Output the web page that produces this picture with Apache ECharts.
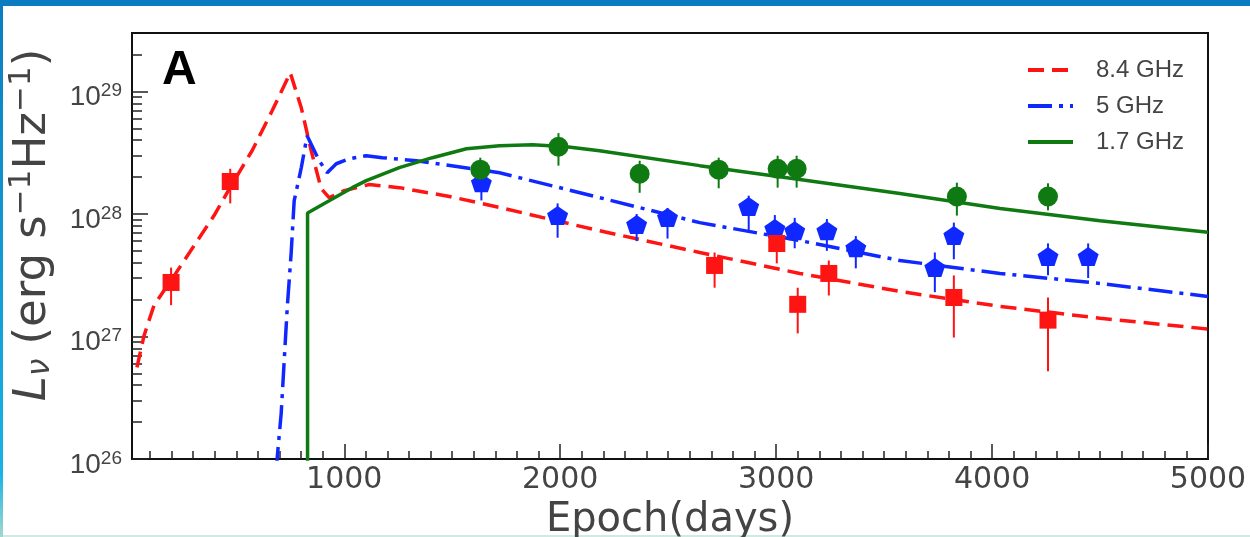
<!DOCTYPE html>
<html>
<head>
<meta charset="utf-8">
<title>Radio light curves</title>
<script src="https://cdn.jsdelivr.net/npm/echarts@6/dist/echarts.min.js"></script>
<style>
  html, body { margin: 0; padding: 0; }
  body {
    width: 1250px; height: 537px; overflow: hidden;
    background:
      linear-gradient(#0b7cc0, #0b7cc0) top left / 100% 6px no-repeat,
      linear-gradient(to bottom, #0b7cc0, #18b2e6 88%, #9fd8d0) top left / 3px 100% no-repeat,
      linear-gradient(#cfeae2, #cfeae2) bottom left / 100% 2px no-repeat,
      #ffffff;
  }
  #chart { width: 1250px; height: 537px; }
</style>
</head>
<body>
<div id="chart"></div>
<script>
// Epochs in days, luminosities in erg s^-1 Hz^-1

// Model light curves: [epoch, L_nu]
const model84 = [
  [40, 5.6e26], [73, 1.02e27], [119, 1.8e27], [198, 2.87e27], [305, 5.53e27],
  [397, 9.7e27], [476, 1.70e28], [573, 3.28e28], [666, 6.95e28], [750, 1.42e29],
  [801, 7.35e28], [847, 3.28e28], [893, 1.61e28], [930, 1.36e28], [1000, 1.55e28],
  [1116, 1.74e28], [1255, 1.64e28], [1487, 1.39e28], [1719, 1.13e28], [2182, 7.3e27],
  [2646, 4.85e27], [3109, 3.27e27], [3573, 2.33e27], [4037, 1.76e27], [4500, 1.41e27],
  [5000, 1.15e27]
];
const model5 = [
  [684, 8e25], [708, 2.37e26], [722, 6.4e26], [736, 1.73e27], [754, 4.76e27],
  [768, 1.28e28], [801, 2.39e28], [828, 4.35e28], [884, 2.72e28], [921, 2.17e28],
  [963, 2.57e28], [1023, 2.82e28], [1102, 2.99e28], [1176, 2.88e28], [1334, 2.72e28],
  [1719, 2.17e28], [2182, 1.36e28], [2646, 8.5e27], [3109, 6.07e27], [3573, 4.17e27],
  [4037, 3.27e27], [4500, 2.71e27], [5000, 2.12e27]
];
const model17 = [
  [830, 9e25], [830, 1.02e28], [930, 1.28e28], [1037, 1.64e28], [1102, 1.87e28],
  [1255, 2.39e28], [1408, 2.88e28], [1566, 3.41e28], [1719, 3.61e28], [1872, 3.67e28],
  [2029, 3.54e28], [2182, 3.28e28], [2646, 2.48e28], [3109, 1.91e28], [3573, 1.47e28],
  [4037, 1.11e28], [4500, 8.8e27], [5000, 7.1e27]
];

// Observed points: epoch, value, lower and upper error limits
const days84 = [198, 472, 2715, 3003, 3100, 3244, 3823, 4259];
const lum84  = [2.76e27, 1.84e28, 3.8e27, 5.74e27, 1.83e27, 3.27e27, 2.08e27, 1.36e27];
const low84  = [1.8e27, 1.22e28, 2.5e27, 3.95e27, 1.06e27, 2.16e27, 9.8e26, 5.2e26];
const high84 = [3.65e27, 2.34e28, 4.85e27, 6.9e27, 2.5e27, 4.17e27, 3.15e27, 2.08e27];

const days5 = [1635, 1988, 2354, 2497, 2873, 2994, 3086, 3235, 3369, 3735, 3823, 4259, 4445];
const lum5  = [1.8e28, 9.7e27, 8.2e27, 9.35e27, 1.15e28, 7.6e27, 7.3e27, 7.3e27, 5.3e27, 3.66e27, 6.67e27, 4.5e27, 4.5e27];
const low5  = [1.29e28, 6.4e27, 6.0e27, 6.3e27, 7.1e27, 5.75e27, 5.25e27, 5.0e27, 3.6e27, 2.3e27, 4.27e27, 3.16e27, 3.0e27];
const high5 = [2.4e28, 1.22e28, 1.0e28, 1.12e28, 1.41e28, 9.8e27, 9.3e27, 9.1e27, 6.6e27, 4.85e27, 8.5e27, 5.75e27, 5.75e27];

const days17 = [1630, 1992, 2368, 2734, 3007, 3095, 3837, 4259];
const lum17  = [2.3e28, 3.54e28, 2.13e28, 2.3e28, 2.34e28, 2.34e28, 1.39e28, 1.39e28];
const low17  = [1.86e28, 2.48e28, 1.49e28, 1.62e28, 1.64e28, 1.64e28, 9.7e27, 1.07e28];
const high17 = [2.88e28, 4.57e28, 2.72e28, 2.88e28, 2.99e28, 2.99e28, 1.8e28, 1.78e28];

// Axis ticks
const xMajorTicks = [1000, 2000, 3000, 4000, 5000];
const xMinorTicks = [100, 200, 300, 400, 500, 600, 700, 800, 900, 1100, 1200, 1300, 1400, 1500,
  1600, 1700, 1800, 1900, 2100, 2200, 2300, 2400, 2500, 2600, 2700, 2800, 2900, 3100, 3200,
  3300, 3400, 3500, 3600, 3700, 3800, 3900, 4100, 4200, 4300, 4400, 4500, 4600, 4700, 4800, 4900];
const yMajorTicks = [1e26, 1e27, 1e28, 1e29];
const yMinorTicks = [2e26, 3e26, 4e26, 5e26, 6e26, 7e26, 8e26, 9e26,
  2e27, 3e27, 4e27, 5e27, 6e27, 7e27, 8e27, 9e27,
  2e28, 3e28, 4e28, 5e28, 6e28, 7e28, 8e28, 9e28, 2e29];

const seriesNames = ['8.4 GHz', '5 GHz', '1.7 GHz'];
const RED = '#ff1414', BLUE = '#0f28ff', GREEN = '#0f7a12';
const PENTAGON = 'path://M50,0 L97.55,34.55 L79.39,90.45 L20.61,90.45 L2.45,34.55 Z';

const zip3 = (d, v, lo, hi) => d.map((x, i) => [x, v[i], lo[i], hi[i]]);

function errorBars(name, rows, color) {
  return {
    type: 'custom', name: name + ' err', data: rows, z: 3, clip: true,
    encode: { x: 0, y: [2, 3] },
    renderItem: function (params, api) {
      const a = api.coord([api.value(0), api.value(2)]);
      const b = api.coord([api.value(0), api.value(3)]);
      return { type: 'line', shape: { x1: a[0], y1: a[1], x2: b[0], y2: b[1] },
               style: { stroke: color, lineWidth: 2 } };
    }
  };
}
function markers(name, rows, color, symbol, size) {
  return {
    type: 'scatter', name: name + ' obs', data: rows.map(r => [r[0], r[1]]), z: 4,
    symbol: symbol, symbolSize: size, itemStyle: { color: color, opacity: 1 }
  };
}
function model(name, data, color, dash) {
  return {
    type: 'line', name: name, data: data, z: 2, clip: true, symbol: 'none',
    lineStyle: { color: color, width: 3.5, type: dash }, itemStyle: { color: color }
  };
}

const rows84 = zip3(days84, lum84, low84, high84);
const rows5 = zip3(days5, lum5, low5, high5);
const rows17 = zip3(days17, lum17, low17, high17);

const chart = echarts.init(document.getElementById('chart'), null, { renderer: 'canvas' });
chart.setOption({
  animation: false,
  backgroundColor: 'transparent',
  grid: {
    left: 132, right: 42, top: 33, bottom: 78, show: true, borderColor: '#111', borderWidth: 2,
    containLabel: false, outerBoundsMode: 'none'
  },
  legend: {
    data: seriesNames, orient: 'vertical', left: 1021, top: 53,
    itemWidth: 45, itemHeight: 14, itemGap: 12,
    itemStyle: { color: 'transparent', borderWidth: 0, opacity: 0 },
    lineStyle: { width: 4 },
    textStyle: { fontFamily: 'Liberation Sans', fontSize: 24, color: '#444', padding: [0, 0, 0, 18] }
  },
  graphic: [{
    type: 'text', left: 162, top: 47,
    style: { text: 'A', font: 'bold 48px "Liberation Sans Narrow", "Liberation Sans", Arial', fill: '#000' }
  }],
  xAxis: [{
    type: 'value', min: 17, max: 5000,
    name: 'Epoch(days)', nameLocation: 'middle', nameGap: 42,
    nameTextStyle: { fontFamily: 'DejaVu Sans', fontSize: 40, color: '#444' },
    axisLine: { show: false }, splitLine: { show: false },
    axisTick: { inside: true, length: 15, customValues: xMajorTicks, lineStyle: { color: '#222', width: 1.5 } },
    axisLabel: {
      customValues: xMajorTicks, margin: 6, formatter: v => String(v),
      fontFamily: 'DejaVu Sans', fontSize: 30, color: '#444'
    }
  }, {
    type: 'value', min: 17, max: 5000, position: 'bottom',
    axisLine: { show: false }, splitLine: { show: false }, axisLabel: { show: false },
    axisTick: { inside: true, length: 8, customValues: xMinorTicks, lineStyle: { color: '#222', width: 1.5 } }
  }],
  yAxis: [{
    type: 'log', logBase: 10, min: 1e26, max: 3e29,
    name: '{it|L}{sub|ν}{n| (erg s}{sup|−1}{n|Hz}{sup|−1}{n|)}',
    nameLocation: 'middle', nameGap: 76,
    nameTextStyle: {
      fontFamily: 'DejaVu Sans', fontSize: 45, color: '#444', padding: [0, 0, 0, 42],
      rich: {
        n: { fontFamily: 'DejaVu Sans', fontSize: 45, color: '#444', lineHeight: 50, verticalAlign: 'bottom' },
        it: { fontFamily: 'DejaVu Sans', fontStyle: 'italic', fontSize: 45, color: '#444', lineHeight: 50, verticalAlign: 'bottom' },
        sub: { fontFamily: 'DejaVu Sans', fontStyle: 'italic', fontSize: 31, color: '#444', lineHeight: 31, verticalAlign: 'bottom' },
        sup: { fontFamily: 'DejaVu Sans', fontSize: 31, color: '#444', lineHeight: 31, verticalAlign: 'top' }
      }
    },
    axisLine: { show: false }, splitLine: { show: false },
    axisTick: { inside: true, length: 16, customValues: yMajorTicks, lineStyle: { color: '#222', width: 1.5 } },
    axisLabel: {
      customValues: yMajorTicks, margin: 10, padding: [10, 0, 0, 0],
      formatter: v => '{b|10}{s|' + Math.round(Math.log10(v)) + '}',
      rich: {
        b: { fontFamily: 'Liberation Sans', fontSize: 28, color: '#444', lineHeight: 30, verticalAlign: 'bottom' },
        s: { fontFamily: 'Liberation Sans', fontSize: 19, color: '#444', lineHeight: 19, verticalAlign: 'top' }
      }
    }
  }, {
    type: 'log', logBase: 10, min: 1e26, max: 3e29, position: 'left',
    axisLine: { show: false }, splitLine: { show: false }, axisLabel: { show: false },
    axisTick: { inside: true, length: 10, customValues: yMinorTicks, lineStyle: { color: '#222', width: 1.5 } }
  }],
  series: [
    model(seriesNames[0], model84, RED, [16, 8]),
    model(seriesNames[1], model5, BLUE, [24, 7, 4, 7]),
    model(seriesNames[2], model17, GREEN, 'solid'),
    errorBars(seriesNames[1], rows5, BLUE),
    markers(seriesNames[1], rows5, BLUE, PENTAGON, [21, 19]),
    errorBars(seriesNames[2], rows17, GREEN),
    markers(seriesNames[2], rows17, GREEN, 'circle', 20),
    errorBars(seriesNames[0], rows84, RED),
    markers(seriesNames[0], rows84, RED, 'rect', 17)
  ]
});
</script>
</body>
</html>
